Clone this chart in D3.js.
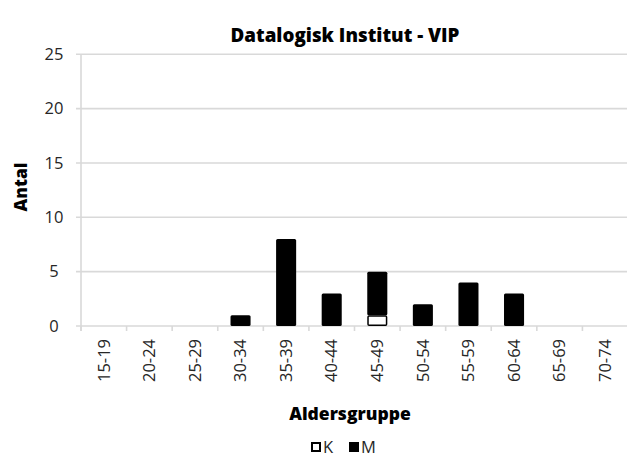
<!DOCTYPE html>
<html>
<head>
<meta charset="utf-8">
<script src="https://cdn.jsdelivr.net/npm/d3@7"></script>
<style>
  body { margin: 0; background: #fff; }
  text { font-family: "Open Sans", "Noto Sans", sans-serif; }
</style>
</head>
<body>
<div id="chart"></div>
<script>
// age groups and counts per series
var groups = ["15-19", "20-24", "25-29", "30-34", "35-39", "40-44", "45-49", "50-54", "55-59", "60-64", "65-69", "70-74"];
var kValues = [0, 0, 0, 0, 0, 0, 1, 0, 0, 0, 0, 0];
var mValues = [0, 0, 0, 1, 8, 3, 4, 2, 4, 3, 0, 0];
var yTicks = [0, 5, 10, 15, 20, 25];

var width = 627, height = 457;
var plotLeft = 81, plotRight = 628, plotTop = 54.3, plotBottom = 326;

var svg = d3.select("#chart")
  .append("svg")
    .attr("width", width)
    .attr("height", height);

var x = d3.scaleBand()
  .domain(groups)
  .range([plotLeft, plotRight])
  .paddingInner(0.56)
  .paddingOuter(0.28);

var y = d3.scaleLinear()
  .domain([0, 25])
  .range([plotBottom, plotTop]);

var grid = "#d9d9d9";

// gridlines
svg.append("g")
  .selectAll("line")
  .data(yTicks)
  .enter()
  .append("line")
    .attr("x1", plotLeft - 5)
    .attr("x2", plotRight)
    .attr("y1", function(d) { return y(d); })
    .attr("y2", function(d) { return y(d); })
    .attr("stroke", grid)
    .attr("stroke-width", 1.6);

// y axis line
svg.append("line")
  .attr("x1", plotLeft).attr("x2", plotLeft)
  .attr("y1", y(25)).attr("y2", plotBottom + 5)
  .attr("stroke", grid)
  .attr("stroke-width", 1.6);

// category boundary ticks
var step = x.step();
var off = (step - x.bandwidth()) / 2;
svg.append("g")
  .selectAll("line")
  .data(groups)
  .enter()
  .append("line")
    .attr("x1", function(d) { return x(d) - off; })
    .attr("x2", function(d) { return x(d) - off; })
    .attr("y1", plotBottom)
    .attr("y2", plotBottom + 5)
    .attr("stroke", grid)
    .attr("stroke-width", 1.6);

// y tick labels
svg.append("g")
  .selectAll("text")
  .data(yTicks)
  .enter()
  .append("text")
    .attr("x", 54)
    .attr("y", function(d) { return y(d); })
    .attr("dy", "0.35em")
    .attr("text-anchor", "middle")
    .attr("font-size", 16.5)
    .attr("fill", "#262626")
    .text(function(d) { return d; });

// x tick labels
svg.append("g")
  .selectAll("text")
  .data(groups)
  .enter()
  .append("text")
    .attr("transform", function(d) {
      return "translate(" + (x(d) + x.bandwidth() / 2) + "," + (plotBottom + 13) + ") rotate(-90)";
    })
    .attr("dy", "0.35em")
    .attr("text-anchor", "end")
    .attr("font-size", 16.5)
    .attr("fill", "#262626")
    .text(function(d) { return d; });

// bars: K at the bottom, M stacked on top
var stack = groups.map(function(g, i) { return {g: g, k: kValues[i], m: mValues[i]}; });

svg.append("g")
  .selectAll("rect")
  .data(stack.filter(function(d) { return d.m > 0; }))
  .enter()
  .append("rect")
    .attr("x", function(d) { return x(d.g); })
    .attr("width", x.bandwidth())
    .attr("y", function(d) { return y(d.k + d.m); })
    .attr("height", function(d) { return y(d.k) - y(d.k + d.m); })
    .attr("rx", 1.5)
    .attr("fill", "#000");

svg.append("g")
  .selectAll("rect")
  .data(stack.filter(function(d) { return d.k > 0; }))
  .enter()
  .append("rect")
    .attr("x", function(d) { return x(d.g) + 0.75; })
    .attr("width", x.bandwidth() - 1.5)
    .attr("y", function(d) { return y(d.k) + 0.75; })
    .attr("height", function(d) { return y(0) - y(d.k) - 1.5; })
    .attr("rx", 1)
    .attr("fill", "#fff")
    .attr("stroke", "#000")
    .attr("stroke-width", 1.5);

// title
svg.append("text")
  .attr("x", 345)
  .attr("y", 42)
  .attr("text-anchor", "middle")
  .attr("font-size", 18.8)
  .attr("font-weight", 800)
  .attr("fill", "#000")
  .text("Datalogisk Institut - VIP");

// axis titles
svg.append("text")
  .attr("transform", "translate(27,187) rotate(-90)")
  .attr("text-anchor", "middle")
  .attr("font-size", 17.5)
  .attr("font-weight", 800)
  .attr("fill", "#000")
  .text("Antal");

svg.append("text")
  .attr("x", 350)
  .attr("y", 420)
  .attr("text-anchor", "middle")
  .attr("font-size", 17.5)
  .attr("font-weight", 800)
  .attr("fill", "#000")
  .text("Aldersgruppe");

// legend
var legend = [{name: "K", fill: "#fff"}, {name: "M", fill: "#000"}];
var lx = [311, 349];
var lg = svg.append("g")
  .selectAll("g")
  .data(legend)
  .enter()
  .append("g")
    .attr("transform", function(d, i) { return "translate(" + lx[i] + ",442)"; });

lg.append("rect")
  .attr("x", 1).attr("y", 1)
  .attr("width", 8).attr("height", 8)
  .attr("fill", function(d) { return d.fill; })
  .attr("stroke", "#000")
  .attr("stroke-width", 2);

lg.append("text")
  .attr("x", 12)
  .attr("y", 5.5)
  .attr("dy", "0.35em")
  .attr("font-size", 16.5)
  .attr("fill", "#262626")
  .text(function(d) { return d.name; });
</script>
</body>
</html>
